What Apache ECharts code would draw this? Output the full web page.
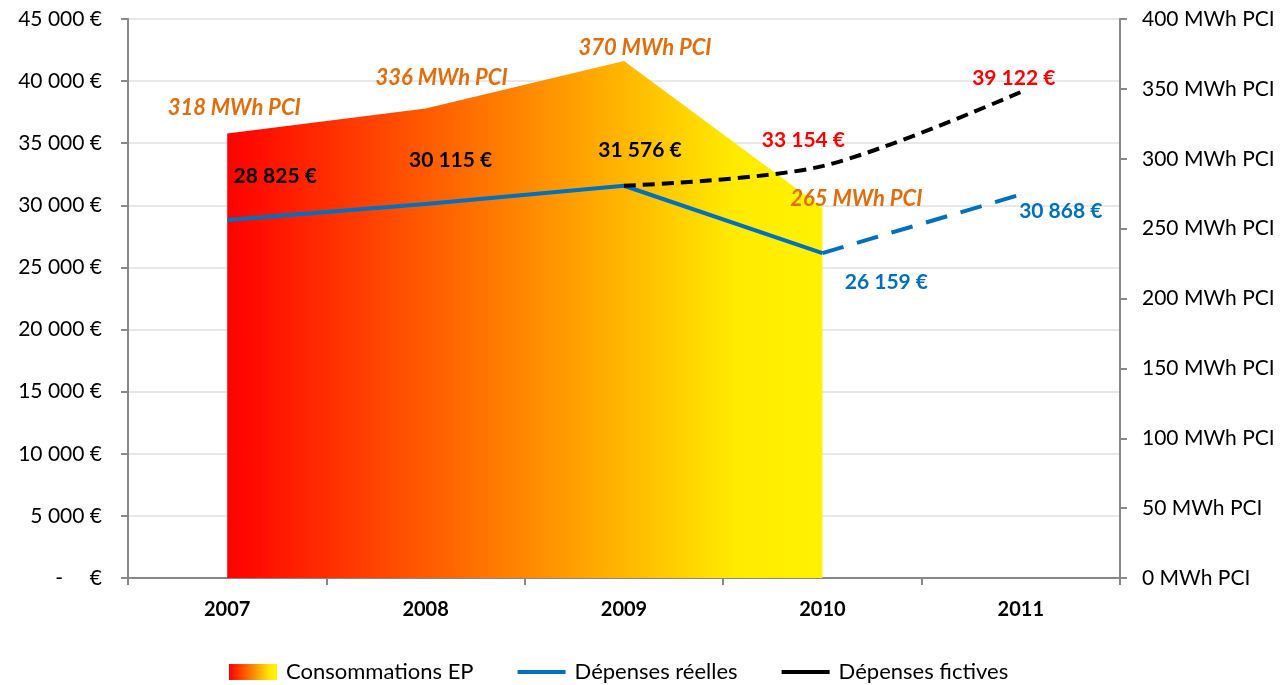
<!DOCTYPE html>
<html>
<head>
<meta charset="utf-8">
<script src="https://cdn.jsdelivr.net/npm/echarts@6/dist/echarts.min.js"></script>
<style>
  html, body { margin: 0; padding: 0; background: #fff; }
  #chart { width: 1283px; height: 685px; }
</style>
</head>
<body>
<div id="chart"></div>
<script>
// données
const years = ['2007', '2008', '2009', '2010', '2011'];
const consommations = [318, 336, 370, 265, null];          // MWh PCI
const depensesReelles = [28825, 30115, 31576, 26159, null]; // €
const depensesPrevues = [null, null, null, 26159, 30868];   // € (pointillé bleu)
const depensesFictives = [null, null, 31576, 33154, 39122]; // €

// décalage des étiquettes (px) et couleur
const consoLabelOffset = [[7, -26], [16, -31], [21, -13], [34, -9], null];
const reellesLabelOffset = [[48, -44], [25, -44], [16, -36], [64, 29], null];
const reellesLabelColor = ['#000', '#000', '#000', '#0070C0', null];
const prevuesLabelOffset = [null, null, null, null, [40, 17]];
const fictivesLabelOffset = [null, null, null, [-19, -26], [-7, -14]];

const FONT = 'Lato';
const orange = '#E46C0A';
const blue = '#0070C0';

function fmtEuro(v) {
  if (v === 0) return '-     €';
  return String(v).replace(/\B(?=(\d{3})+(?!\d))/g, ' ') + ' €';
}

function withLabels(values, offsets, colors, fmt, extra) {
  return values.map(function (v, i) {
    if (v == null) return null;
    if (!offsets[i]) return { value: v, label: { show: false } };
    return {
      value: v,
      label: Object.assign({
        show: true,
        position: 'inside',
        offset: offsets[i],
        color: typeof colors === 'string' ? colors : colors[i],
        fontFamily: FONT,
        fontSize: 21,
        fontWeight: 'bold',
        formatter: function (p) { return fmt(p.value); }
      }, extra || {})
    };
  });
}

const gradient = {
  type: 'linear', x: 0, y: 0, x2: 1, y2: 0,
  colorStops: [
    { offset: 0, color: '#FF0000' },
    { offset: 0.45, color: '#FF7A00' },
    { offset: 0.85, color: '#FFEA00' },
    { offset: 1, color: '#FFF200' }
  ]
};

const linePath = 'path://M0,0 L0.01,0 Z M0,16 L0.01,16 Z M0,6 L48,6 L48,10 L0,10 Z';

const chart = echarts.init(document.getElementById('chart'));
chart.setOption({
  animation: false,
  textStyle: { fontFamily: FONT },
  grid: { left: 128, right: 163, top: 19, bottom: 107 },
  legend: {
    top: 661,
    left: 229,
    padding: 0,
    itemWidth: 48,
    itemHeight: 16,
    itemGap: 44,
    itemStyle: { borderWidth: 0 },
    textStyle: { fontFamily: FONT, fontSize: 22, color: '#000', padding: [0, 0, 0, 4] },
    data: [
      { name: 'Consommations EP', icon: 'rect', itemStyle: { color: gradient } },
      { name: 'Dépenses réelles', icon: linePath, itemStyle: { color: blue } },
      { name: 'Dépenses fictives', icon: linePath, itemStyle: { color: '#000' } }
    ]
  },
  xAxis: {
    type: 'category',
    data: years,
    boundaryGap: true,
    axisLine: { lineStyle: { color: '#888', width: 2 } },
    axisTick: { show: true, length: 7, lineStyle: { color: '#888', width: 2 } },
    axisLabel: { color: '#000', fontFamily: FONT, fontSize: 20, fontWeight: 'bold', margin: 22 }
  },
  yAxis: [
    {
      type: 'value', min: 0, max: 45000, interval: 5000,
      axisLine: { show: true, lineStyle: { color: '#888', width: 2 } },
      axisTick: { show: true, length: 7, lineStyle: { color: '#888', width: 2 } },
      axisLabel: { color: '#000', fontFamily: FONT, fontSize: 21, margin: 26, formatter: fmtEuro },
      splitLine: { lineStyle: { color: '#E8E8E8', width: 2 } }
    },
    {
      type: 'value', min: 0, max: 400, interval: 50, position: 'right',
      axisLine: { show: true, lineStyle: { color: '#888', width: 2 } },
      axisTick: { show: true, length: 7, lineStyle: { color: '#888', width: 2 } },
      axisLabel: { color: '#000', fontFamily: FONT, fontSize: 21, margin: 22,
        formatter: function (v) { return v + ' MWh PCI'; } },
      splitLine: { show: false }
    }
  ],
  series: [
    {
      name: 'Consommations EP',
      type: 'line',
      yAxisIndex: 1,
      data: withLabels(consommations, consoLabelOffset, orange,
        function (v) { return v + ' MWh PCI'; }, { fontStyle: 'italic', fontSize: 22 }),
      symbol: 'circle',
      symbolSize: 0.5,
      itemStyle: { color: 'rgba(0,0,0,0)', borderWidth: 0 },
      lineStyle: { width: 0, opacity: 0 },
      areaStyle: { color: gradient, opacity: 1 },
      emphasis: { disabled: true },
      z: 1
    },
    {
      name: 'Dépenses réelles',
      type: 'line',
      data: withLabels(depensesReelles, reellesLabelOffset, reellesLabelColor, fmtEuro),
      symbol: 'circle',
      symbolSize: 0.5,
      itemStyle: { color: blue, borderWidth: 0 },
      lineStyle: { color: blue, width: 4 },
      emphasis: { disabled: true },
      z: 3
    },
    {
      name: 'Dépenses réelles',
      type: 'line',
      data: withLabels(depensesPrevues, prevuesLabelOffset, blue, fmtEuro),
      symbol: 'circle',
      symbolSize: 0.5,
      itemStyle: { color: blue, borderWidth: 0 },
      lineStyle: { color: blue, width: 4, type: [22, 14] },
      emphasis: { disabled: true },
      z: 3
    },
    {
      name: 'Dépenses fictives',
      type: 'line',
      data: withLabels(depensesFictives, fictivesLabelOffset, '#FF0000', fmtEuro),
      smooth: 0.3,
      symbol: 'circle',
      symbolSize: 0.5,
      itemStyle: { color: '#000', borderWidth: 0 },
      lineStyle: { color: '#000', width: 4, type: [12, 7] },
      emphasis: { disabled: true },
      z: 4
    }
  ]
});
</script>
</body>
</html>
